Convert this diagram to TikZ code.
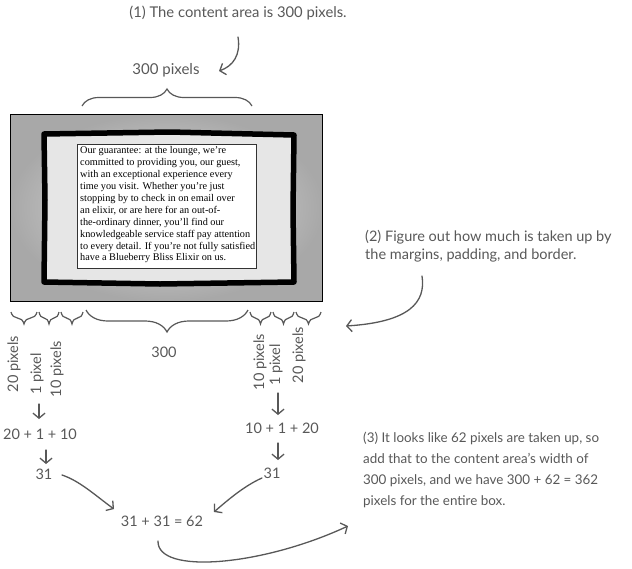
\documentclass[tikz,border=0pt]{standalone}
\usepackage{fontspec}
\setmainfont{Liberation Serif}
\newfontfamily\hand{Lato}
\usetikzlibrary{arrows.meta,decorations.pathreplacing,shadings}
\definecolor{ink}{HTML}{585858}
\definecolor{padgray}{HTML}{E6E6E6}
\tikzset{
  handtxt/.style={font=\hand\fontsize{14.5}{20}\selectfont, text=ink, inner sep=0pt},
  vlab/.style={handtxt, font=\hand\fontsize{14.5}{20}\selectfont, rotate=90},
  arr/.style={draw=ink, line width=1.3pt, line cap=round, -{Straight Barb[length=5pt,width=12pt]}},
  brc/.style={draw=ink, line width=1.2pt, decorate, decoration={brace, amplitude=#1}},
  mbrc/.style={draw=ink, line width=1.2pt, decorate, decoration={brace, mirror, amplitude=#1}},
}
\begin{document}
\begin{tikzpicture}[x=1pt,y=-1pt]
\useasboundingbox (0,0) rectangle (632,568);
% box model
\shade[inner color=gray!22, outer color=gray!68, draw=black, line width=1pt] (10,114) rectangle (322,301);
\fill[padgray] (44,134) rectangle (294,282);
\draw[black, line width=5.5pt, line join=round] (44,134) -- (170,132) -- (294,135) -- (293,210) -- (294,282) -- (160,284) -- (44,282) -- (45,200) -- cycle;
\node[draw=black!80, line width=1pt, fill=white, minimum width=179pt, minimum height=124pt, inner sep=0pt] (content) at (166.5,206) {};
\node[anchor=north west, align=left, inner sep=0pt, font=\fontsize{10.25}{11.9}\selectfont] (ctext) at (80,146.5) {Our guarantee: at the lounge, we’re\\committed to providing you, our guest,\\with an exceptional experience every\\time you visit. Whether you’re just\\stopping by to check in on email over\\an elixir, or are here for an out-of-\\the-ordinary dinner, you’ll find our\\knowledgeable service staff pay attention\\to every detail. If you’re not fully satisfied\\have a Blueberry Bliss Elixir on us.};
% top
\node[handtxt, font=\hand\fontsize{14.8}{20}\selectfont] (t1) at (238,13) {(1) The content area is 300 pixels.};
\node[handtxt, font=\hand\fontsize{15}{20}\selectfont] (p300) at (166,70) {300 pixels};
\coordinate (a1s) at (238,37);
\coordinate (a1e) at (219,71);
\draw[arr] (a1s) .. controls (241,55) and (233,66) .. (a1e);
\coordinate (tb1) at (82,106);
\coordinate (tb2) at (252,106);
\draw[brc=17pt] (tb1) -- (tb2);
% bottom braces
\coordinate (b0) at (11,312); \coordinate (b1) at (37,312); \coordinate (b2) at (39,312); \coordinate (b3) at (59,312);
\coordinate (b4) at (61,312); \coordinate (b5) at (83,312);
\coordinate (b6) at (86,310); \coordinate (b7) at (248,310);
\coordinate (b8) at (250,312); \coordinate (b9) at (271,312); \coordinate (b10) at (273,312); \coordinate (b11) at (294,312);
\coordinate (b12) at (296,312); \coordinate (b13) at (321,312);
\draw[mbrc=12pt] (b0) -- (b1);
\draw[mbrc=12pt] (b2) -- (b3);
\draw[mbrc=12pt] (b4) -- (b5);
\draw[mbrc=22pt] (b6) -- (b7);
\draw[mbrc=12pt] (b8) -- (b9);
\draw[mbrc=12pt] (b10) -- (b11);
\draw[mbrc=12pt] (b12) -- (b13);
\node[handtxt] (n300) at (164,352) {300};
% vertical labels
\node[vlab] (l20) at (14,364) {20 pixels};
\node[vlab] (l1) at (37,374) {1 pixel};
\node[vlab] (l10) at (57,369) {10 pixels};
\node[vlab] (r10) at (260,362) {10 pixels};
\node[vlab] (r1) at (276,365) {1 pixel};
\node[vlab] (r20) at (299,355) {20 pixels};
% sums
\node[handtxt] (lsum) at (40,434) {20 + 1 + 10};
\node[handtxt] (lres) at (44,474) {31};
\node[handtxt] (rsum) at (282,428) {10 + 1 + 20};
\node[handtxt] (rres) at (272,473) {31};
\node[handtxt] (tot) at (162,521) {31 + 31 = 62};
\coordinate (la1s) at (39,404); \coordinate (la1e) at (39,419);
\draw[arr] (la1s) -- (la1e);
\coordinate (la2s) at (46,450); \coordinate (la2e) at (46,464);
\draw[arr] (la2s) -- (la2e);
\coordinate (ra1s) at (278,393); \coordinate (ra1e) at (278,415);
\draw[arr] (ra1s) -- (ra1e);
\coordinate (ra2s) at (278,443); \coordinate (ra2e) at (278,460);
\draw[arr] (ra2s) -- (ra2e);
\coordinate (c1s) at (62,475); \coordinate (c1e) at (114,509);
\draw[arr] (c1s) .. controls (80,481) and (96,496) .. (c1e);
\coordinate (c2s) at (262,478); \coordinate (c2e) at (214,512);
\draw[arr] (c2s) .. controls (246,485) and (230,498) .. (c2e);
\coordinate (c3s) at (158,541); \coordinate (c3e) at (348,526);
\draw[arr] (c3s) .. controls (157,575) and (262,566) .. (c3e);
% right notes
\node[handtxt, anchor=west, align=left, font=\hand\fontsize{14.5}{18}\selectfont] (t2) at (365,246) {(2) Figure out how much is taken up by\\the margins, padding, and border.};
\coordinate (a2s) at (422,276); \coordinate (a2e) at (346,326);
\draw[arr] (a2s) .. controls (426,302) and (410,322) .. (a2e);
\node[handtxt, anchor=west, align=left, font=\hand\fontsize{13.4}{21}\selectfont] (t3) at (363,470) {(3) It looks like 62 pixels are taken up, so\\add that to the content area’s width of\\300 pixels, and we have 300 + 62 = 362\\pixels for the entire box.};
\end{tikzpicture}
\end{document}
